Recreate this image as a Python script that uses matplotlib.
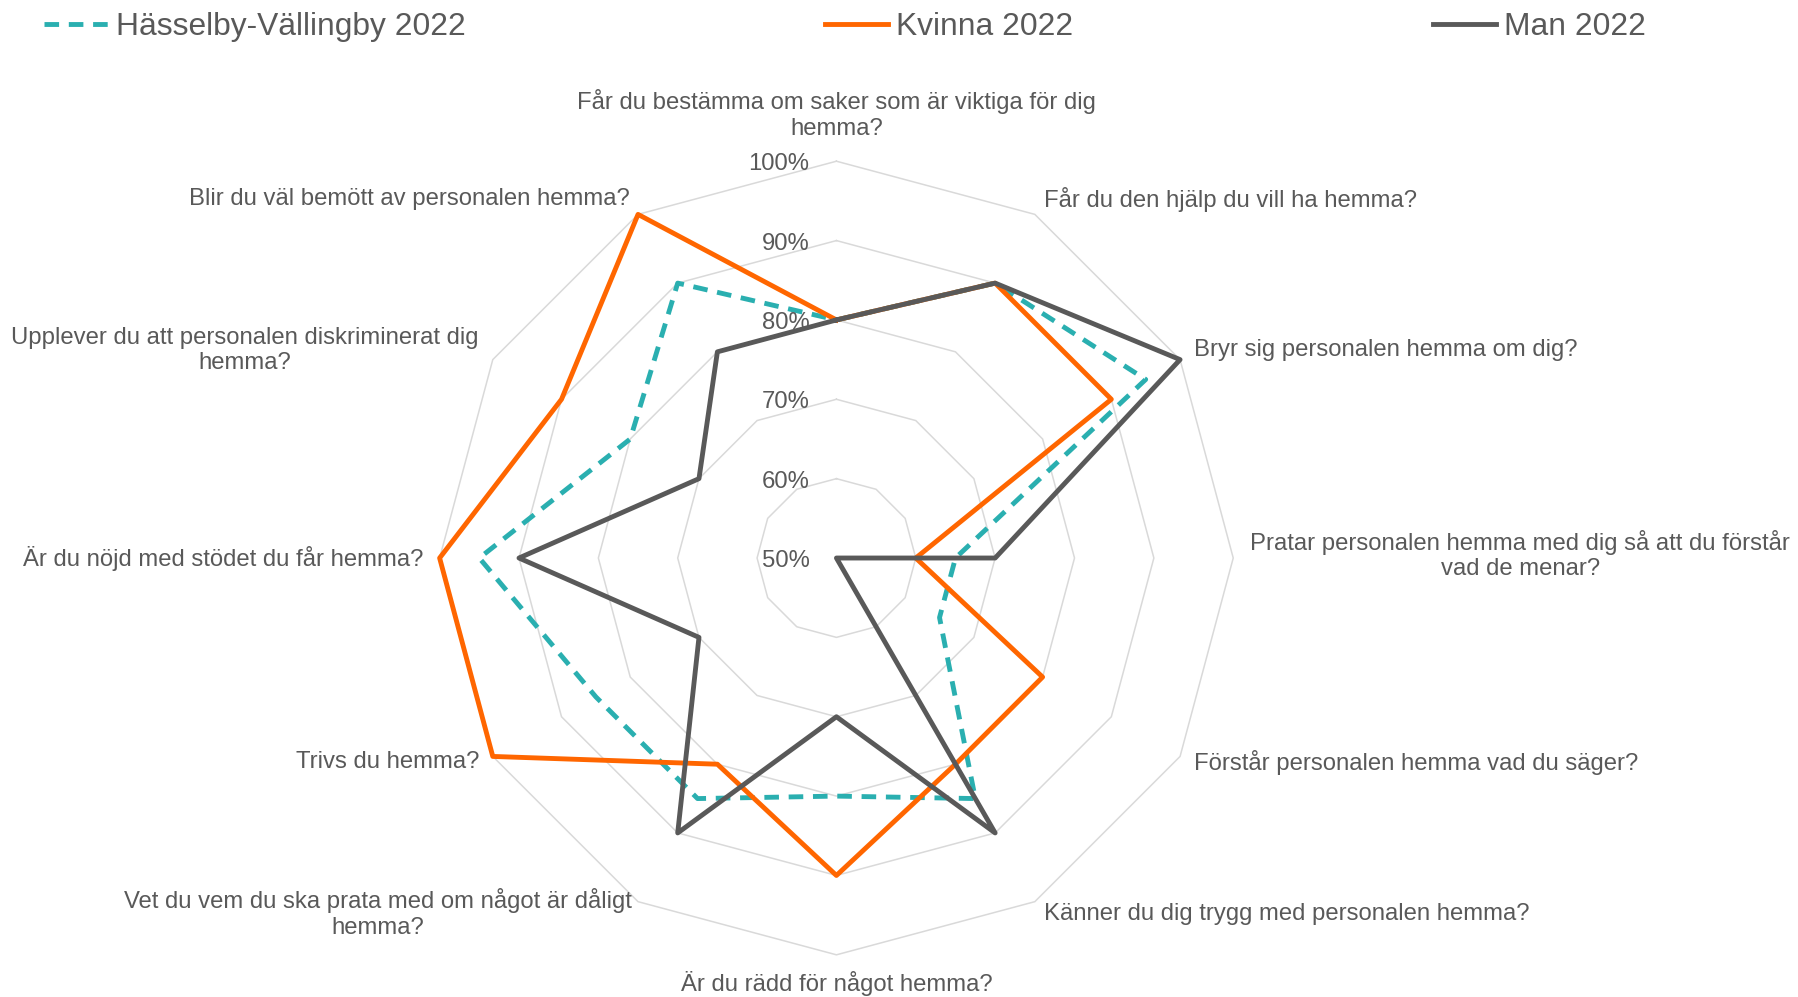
import numpy as np
import matplotlib.pyplot as plt

plt.rcParams['font.family'] = ['Liberation Sans', 'DejaVu Sans']

# questions, clockwise from the top
categories = [
    "Får du bestämma om saker som är viktiga för dig\nhemma?",
    "Får du den hjälp du vill ha hemma?",
    "Bryr sig personalen hemma om dig?",
    "Pratar personalen hemma med dig så att du förstår\nvad de menar?",
    "Förstår personalen hemma vad du säger?",
    "Känner du dig trygg med personalen hemma?",
    "Är du rädd för något hemma?",
    "Vet du vem du ska prata med om något är dåligt\nhemma?",
    "Trivs du hemma?",
    "Är du nöjd med stödet du får hemma?",
    "Upplever du att personalen diskriminerat dig\nhemma?",
    "Blir du väl bemött av personalen hemma?",
]
hasselby = [80, 90, 95, 65, 65, 85, 80, 85, 85, 95, 80, 90]
kvinna = [80, 90, 90, 60, 80, 80, 90, 80, 100, 100, 90, 100]
man = [80, 90, 100, 70, 50, 90, 70, 90, 70, 90, 70, 80]
series_names = ["Hässelby-Vällingby 2022", "Kvinna 2022", "Man 2022"]
ticks = [50, 60, 70, 80, 90, 100]
tick_labels = ["50%", "60%", "70%", "80%", "90%", "100%"]

text_color = '#595959'
grid_color = '#D9D9D9'

fig = plt.figure(figsize=(17.98, 9.97), dpi=100)
ax = fig.add_axes([0.2445, 0.0423, 0.4414, 0.796], projection='polar')
ax.set_theta_zero_location('N')
ax.set_theta_direction(-1)
ax.set_ylim(50, 100)
ax.set_xticks([])
ax.set_yticks([])
ax.grid(False)
ax.spines['polar'].set_visible(False)
ax.patch.set_alpha(0)

n = len(categories)
angles = np.linspace(0, 2 * np.pi, n, endpoint=False)
closed = np.append(angles, angles[0])

def close(vals):
    return list(vals) + [vals[0]]

# polygon grid rings
for t in ticks:
    ax.plot(closed, [t] * (n + 1), color=grid_color, lw=1.1, zorder=1, clip_on=False)

ax.plot(closed, close(hasselby), color='#2AAFB0', lw=3.5, linestyle=(0, (3, 2)),
        label=series_names[0], zorder=3, clip_on=False)
ax.plot(closed, close(kvinna), color='#FF6600', lw=3.5, label=series_names[1],
        zorder=3, clip_on=False)
ax.plot(closed, close(man), color='#595959', lw=3.5, label=series_names[2],
        zorder=4, clip_on=False)

# radial tick labels
for t, lab in zip(ticks, tick_labels):
    ax.annotate(lab, xy=(0, t), xytext=(-27, -3), textcoords='offset pixels',
                ha='right', va='center', fontsize=17.2, color=text_color,
                annotation_clip=False)

# category labels placed next to the outer vertex
offsets = [(0, 47), (9, 15), (14, 10), (17, 3), (14, -6), (9, -12),
           (0, -29), (-6, -12), (-13, -6), (-16, 0), (-14, 9), (-8, 15)]
aligns = ['center', 'left', 'left', 'left', 'left', 'left',
          'center', 'right', 'right', 'right', 'right', 'right']
for ang, lab, off, ha in zip(angles, categories, offsets, aligns):
    ax.annotate(lab, xy=(ang, 100), xytext=off, textcoords='offset pixels',
                ha=ha, va='center', multialignment='center', linespacing=1.22,
                fontsize=17.2, color=text_color, annotation_clip=False)

leg = fig.legend(loc='center left', bbox_to_anchor=(44 / 1798, 1 - 27 / 997),
                 ncol=3, frameon=False, fontsize=22.9, handlelength=2.0,
                 handletextpad=0.25, columnspacing=11.3, borderpad=0,
                 borderaxespad=0)
for txt in leg.get_texts():
    txt.set_color(text_color)

fig.savefig('out.png', dpi=100)
